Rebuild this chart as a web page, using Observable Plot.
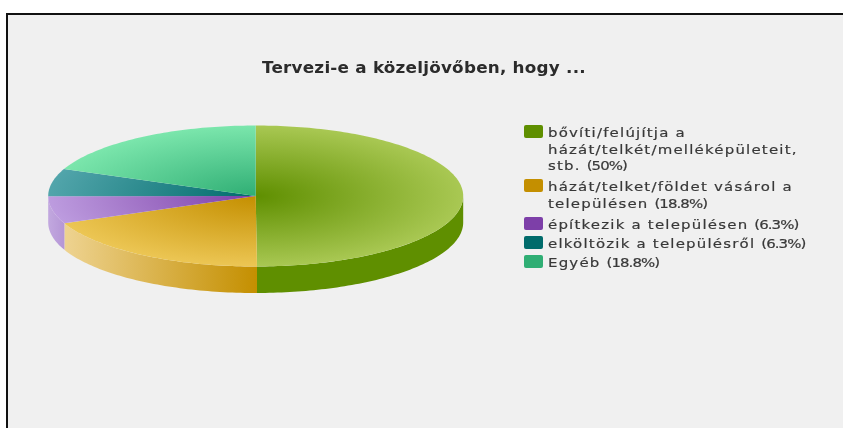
<!DOCTYPE html>
<html lang="hu">
<head>
<meta charset="utf-8">
<script src="https://cdn.jsdelivr.net/npm/d3@7"></script>
<script src="https://cdn.jsdelivr.net/npm/@observablehq/plot@0.6"></script>
<style>
  html, body { margin: 0; padding: 0; width: 843px; height: 428px; overflow: hidden; background: #fff; }
  #frame { position: absolute; left: 6px; top: 13px; width: 900px; height: 500px; box-sizing: border-box;
           border: 2px solid #111; background: #f0f0f0; }
  #chart { position: absolute; left: 0; top: 0; filter: blur(0.4px); }
  #title { position: absolute; left: 262px; top: 59px; font: bold 15px "DejaVu Sans", sans-serif; letter-spacing: 0.2px;
           color: #2b2b2b; white-space: nowrap; transform: scaleX(1.12); transform-origin: left top; filter: blur(0.5px); }
  #legend { position: absolute; left: 524px; top: 125px; font: 13px/16.5px "DejaVu Sans", sans-serif; color: #383838; }
  .row { display: flex; position: absolute; left: 0; white-space: nowrap; }
  .swatch { width: 19px; height: 13px; border-radius: 2px; margin-right: 5px; flex: none; filter: blur(0.4px); }
  .label { letter-spacing: 1.05px; transform: scaleX(1.15); transform-origin: left top; filter: blur(0.5px);
           -webkit-text-stroke: 0.2px #383838; }
  .line { white-space: pre; }
  .pct { letter-spacing: -0.8px; }
</style>
</head>
<body>
<div id="frame"></div>
<div id="chart"></div>
<div id="title"></div>
<div id="legend"></div>
<script>
const titleText = "Tervezi-e a közeljövőben, hogy ...";
const categories = [
  "bővíti/felújítja a\nházát/telkét/melléképületeit,\nstb.",
  "házát/telket/földet vásárol a\ntelepülésen",
  "építkezik a településen",
  "elköltözik a településről",
  "Egyéb"
];
const values = [50, 18.8, 6.3, 6.3, 18.8];
const baseColors = ["#5f8f00", "#c48f00", "#7d3fa8", "#006b6b", "#2fae74"];
const lightColors = ["#a9c853", "#ecc654", "#bd9cdf", "#52a5ab", "#7be6ac"];
const wallLightColors = ["#5f8f00", "#eed391", "#c2a8df", "#52a5ab", "#7be6ac"];
const legendRowTops = [0, 54, 92, 111, 130];

document.getElementById("title").textContent = titleText;
const legend = document.getElementById("legend");
categories.forEach((c, i) => {
  const row = document.createElement("div");
  row.className = "row";
  row.style.top = legendRowTops[i] + "px";
  const sw = document.createElement("div");
  sw.className = "swatch";
  sw.style.background = baseColors[i];
  const txt = document.createElement("div");
  txt.className = "label";
  const lines = c.split("\n");
  lines.forEach((l, k) => {
    const line = document.createElement("div");
    line.className = "line";
    if (k === lines.length - 1) {
      const word = document.createElement("span");
      word.textContent = l + " ";
      const pct = document.createElement("span");
      pct.className = "pct";
      pct.textContent = `(${values[i]}%)`;
      line.append(word, pct);
    } else {
      line.textContent = l;
    }
    txt.append(line);
  });
  row.append(sw, txt);
  legend.append(row);
});

// Slice angles, clockwise from the top of the pie
const total = d3.sum(values);
let acc = 0;
const slices = values.map((v, i) => {
  const a0 = acc / total * 2 * Math.PI;
  acc += v;
  return { i, a0, a1: acc / total * 2 * Math.PI };
});
const depth = 0.376;
const arc = (a0, a1, dy = 0) => {
  const n = Math.max(2, Math.ceil((a1 - a0) / 0.02));
  return d3.range(n + 1).map(k => {
    const t = a0 + (a1 - a0) * k / n;
    return { x: Math.sin(t), y: Math.cos(t) - dy };
  });
};
const topFace = s => [{ x: 0, y: 0 }, ...arc(s.a0, s.a1)];
const wall = s => {
  const a0 = Math.max(s.a0, Math.PI / 2), a1 = Math.min(s.a1, 3 * Math.PI / 2);
  if (a1 <= a0) return null;
  return [...arc(a0, a1), ...arc(a0, a1, depth).reverse()];
};

const defs = (index, { x, y }) => {
  const svg = d3.create("svg:defs");
  const cx = x(0), cy = y(0), rx = x(1) - cx, ry = y(-1) - cy;
  slices.forEach(s => {
    const g = svg.append("radialGradient").attr("id", `top${s.i}`)
      .attr("gradientUnits", "userSpaceOnUse").attr("cx", 0).attr("cy", 0).attr("r", 1)
      .attr("gradientTransform", `translate(${cx},${cy}) scale(${rx},${ry})`);
    g.append("stop").attr("offset", 0).attr("stop-color", baseColors[s.i]);
    g.append("stop").attr("offset", 1).attr("stop-color", lightColors[s.i]);
    const w = svg.append("linearGradient").attr("id", `wall${s.i}`);
    w.append("stop").attr("offset", 0).attr("stop-color", wallLightColors[s.i]);
    w.append("stop").attr("offset", 1).attr("stop-color", s.i === 2 ? "#b596d6" : baseColors[s.i]);
  });
  return svg.node();
};

const plot = Plot.plot({
  width: 843,
  height: 428,
  margin: 0,
  style: "background:transparent",
  x: { domain: [-1, 1], range: [47.7, 462.7], axis: null },
  y: { domain: [1, -1], range: [125, 266], axis: null },
  marks: [
    defs,
    ...slices.filter(wall).map(s => Plot.line(wall(s), {
      x: "x", y: "y", curve: "linear-closed", fill: `url(#wall${s.i})`, stroke: "none"
    })),
    ...slices.map(s => Plot.line(topFace(s), {
      x: "x", y: "y", curve: "linear-closed", fill: `url(#top${s.i})`, stroke: "none"
    }))
  ]
});
document.getElementById("chart").append(plot);
</script>
</body>
</html>
